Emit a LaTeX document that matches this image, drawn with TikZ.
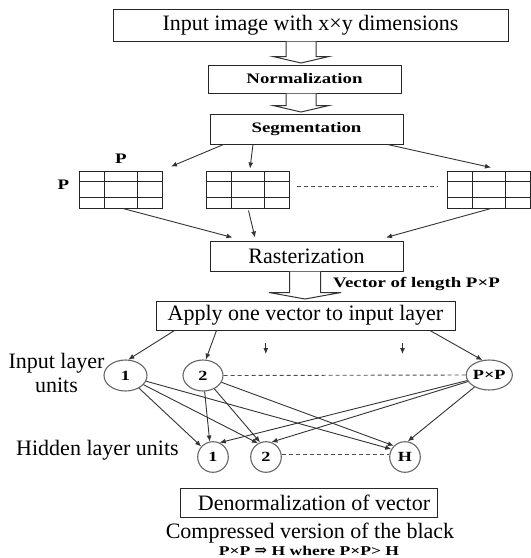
\documentclass[tikz,border=0pt]{standalone}
\usepackage{fontspec}
\setmainfont{Liberation Serif}
\newfontfamily\bfw[FakeStretch=1.3]{Liberation Serif Bold}
\newfontfamily\symf{DejaVu Serif}
\usetikzlibrary{arrows.meta,shapes.geometric,calc}
\newcommand\hollowarrow[5]{%
  \draw[hollow] let \p1=(#1.south), \p2=(#2.north) in
    (#3pt-#4pt,\y1) -- (#3pt-#4pt,\y2+8pt) -- (#3pt-#5pt,\y2+8pt) -- (#3pt,\y2+1.5pt)
    -- (#3pt+#5pt,\y2+8pt) -- (#3pt+#4pt,\y2+8pt) -- (#3pt+#4pt,\y1);}
\begin{document}
\begin{tikzpicture}[x=1pt,y=-1pt,
  mainbox/.style={draw=black!85, line width=1pt, inner sep=0pt, font=\fontsize{22}{24}\selectfont},
  boldbox/.style={mainbox, font=\bfw\fontsize{14.5}{16}\selectfont},
  plain/.style={inner sep=0pt, font=\fontsize{22}{23.5}\selectfont},
  lbl/.style={inner sep=0pt, font=\bfw\fontsize{14.5}{16}\selectfont},
  gridbox/.style={draw=black!85, line width=1pt, minimum width=83pt, minimum height=37pt, inner sep=0pt,
    path picture={
      \draw[line width=1pt,black!85]
        ([xshift=25pt]path picture bounding box.north west) -- ([xshift=25pt]path picture bounding box.south west)
        ([xshift=58pt]path picture bounding box.north west) -- ([xshift=58pt]path picture bounding box.south west)
        ([yshift=-10pt]path picture bounding box.north west) -- ([yshift=-10pt]path picture bounding box.north east)
        ([yshift=-26pt]path picture bounding box.north west) -- ([yshift=-26pt]path picture bounding box.north east);
    }},
  unit/.style={ellipse, draw=black!60, line width=1.1pt, inner sep=0pt, font=\bfw\fontsize{14}{16}\selectfont},
  arr/.style={draw=black!80, line width=0.9pt, -{Latex[length=6pt,width=5pt]}},
  dashline/.style={draw=black!70, line width=0.9pt, dash pattern=on 4pt off 3pt},
  hollow/.style={draw=black!80, line width=1pt, fill=white, line join=miter}
]
\useasboundingbox (0,0) rectangle (531,558);

% boxes
\node[mainbox, minimum width=395pt, minimum height=32pt] (top) at (310.5,25) {Input image with x×y dimensions};
\node[boldbox, minimum width=193pt, minimum height=28pt] (norm) at (304.5,79) {Normalization};
\node[boldbox, minimum width=193pt, minimum height=30pt] (seg) at (306.5,129) {Segmentation};
\node[gridbox] (g1) at (121,189.5) {};
\node[gridbox] (g2) at (247.5,189.5) {};
\node[gridbox] (g3) at (489,189.5) {};
\node[lbl] (ptop) at (121,159) {P};
\node[lbl] (pleft) at (63.5,185) {P};
\node[mainbox, minimum width=193pt, minimum height=30pt] (raster) at (306.5,256) {Rasterization};
\node[lbl, anchor=west] (vec) at (333,284) {Vector of length P×P};
\node[mainbox, minimum width=299pt, minimum height=29pt] (apply) at (305.5,315.5) {Apply one vector to input layer};

% units
\node[plain, align=center] (inlbl) at (56.5,373) {Input layer\\units};
\node[plain] (hidlbl) at (97.5,450) {Hidden layer units};
\node[unit, minimum width=43pt, minimum height=31pt] (i1) at (125.5,375.5) {1};
\node[unit, minimum width=40pt, minimum height=31pt] (i2) at (203,375.5) {2};
\node[unit, minimum width=45pt, minimum height=30pt] (ipp) at (489.3,375) {P×P};
\node[unit, minimum width=30.6pt, minimum height=30.6pt] (h1) at (213,457) {1};
\node[unit, minimum width=30.6pt, minimum height=30.6pt] (h2) at (266,457) {2};
\node[unit, minimum width=30.6pt, minimum height=30.6pt] (hH) at (405,457) {H};

% bottom
\node[mainbox, minimum width=257pt, minimum height=29pt] (denorm) at (309,503) {\hspace{10pt}Denormalization of vector};
\node[plain, anchor=base] (comp) at (310,538) {Compressed version of the black};
\node[lbl, anchor=base, font=\bfw\fontsize{13.5}{15}\selectfont] (rel) at (309,555) {P×P {\symf\fontsize{15}{15}\selectfont\bfseries ⇒} H where P×P> H};

% hollow arrows
\hollowarrow{top}{norm}{301}{15}{28}
\hollowarrow{norm}{seg}{301}{15}{28}
\hollowarrow{raster}{apply}{305}{15.5}{36}

% segmentation to grids
\draw[arr] ([xshift=-83pt]seg.south) -- ([xshift=8pt,yshift=4pt]g1.north east);
\draw[arr] ([xshift=-53.5pt]seg.south) -- ([xshift=2.5pt,yshift=2pt]g2.north);
\draw[arr] ([xshift=81pt]seg.south) -- ([xshift=2pt,yshift=3pt]g3.north);
\draw[arr] ([xshift=2pt]g1.south) -- ([xshift=-74pt,yshift=3pt]raster.north);
\draw[arr] ([xshift=1pt,yshift=-2pt]g2.south) -- ([xshift=-51.5pt,yshift=3pt]raster.north);
\draw[arr] ([xshift=2pt]g3.south) -- ([xshift=79.5pt,yshift=3pt]raster.north);
\draw[dashline] ([xshift=7pt,yshift=3.5pt]g2.east) -- ([xshift=-10pt,yshift=3.5pt]g3.west);

% apply to inputs
\draw[arr] ([xshift=-131pt]apply.south) -- (i1.80);
\draw[arr] ([xshift=-89pt]apply.south) -- (i2.80);
\draw[arr] ([xshift=124.5pt]apply.south) -- (ipp.115);
\coordinate (s1a) at (265.8,342.5);
\coordinate (s1b) at (265.8,354);
\coordinate (s2a) at (402.5,342.5);
\coordinate (s2b) at (402.5,354);
\draw[arr] (s1a) -- (s1b);
\draw[arr] (s2a) -- (s2b);

% dashed
\draw[dashline] (i2.east) -- (ipp.west);
\draw[dashline] (h2.10) -- (hH.170);

% input to hidden
\draw[arr] (i1) -- (h1.138);
\draw[arr] (i2) -- (h1.102);
\draw[arr] (ipp) -- (h1.65);
\draw[arr] (i1) -- (h2.120);
\draw[arr] (i2) -- (h2.112);
\draw[arr] (ipp) -- (h2.70);
\draw[arr] (i1) -- (hH.150);
\draw[arr] (i2) -- (hH.135);
\draw[arr] (ipp) -- (hH.80);
\end{tikzpicture}
\end{document}
